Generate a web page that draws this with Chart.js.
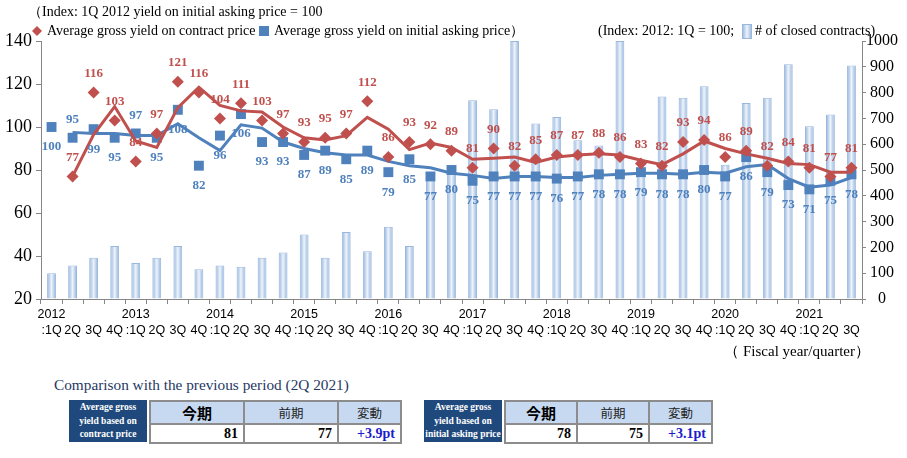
<!DOCTYPE html>
<html>
<head>
<meta charset="utf-8">
<script src="https://cdn.jsdelivr.net/npm/chart.js@4.4.1/dist/chart.umd.min.js"></script>
<style>
  body { margin: 0; background: #fff; width: 907px; height: 458px; position: relative; overflow: hidden; }
  #yieldChart { position: absolute; left: 0; top: 0; }
  .cmp-title { position: absolute; left: 54px; top: 376px; font: 15.3px "Liberation Serif", serif; color: #1f3864; white-space: nowrap; }
  .hdr { position: absolute; top: 400px; width: 78px; height: 42px; background: #1f497d; color: #fff; white-space: nowrap;
         font: bold 9.5px "Liberation Serif", serif; line-height: 13.5px; text-align: center; padding-top: 1px; box-sizing: border-box; }
  table.cmp { position: absolute; top: 400px; border-collapse: collapse; table-layout: fixed; }
  table.cmp td { border: 2px solid #8c8c8c; height: 17px; padding: 0 5px; }
  table.cmp tr.h td { background: #c6d9f1; text-align: center; font: 12.5px "Noto Sans CJK JP", sans-serif; color: #222; }
  table.cmp tr.h td.now { font: bold 15px "Noto Sans CJK JP", sans-serif; color: #000; }
  table.cmp tr.v td { text-align: right; font: bold 14px "Liberation Serif", serif; color: #000; }
  table.cmp tr.v td.chg { color: #1c1ccc; }
</style>
</head>
<body>
<canvas id="yieldChart" width="907" height="365"></canvas>

<div class="cmp-title">Comparison with the previous period (2Q 2021)</div>

<div class="hdr" style="left:69px">Average gross<br>yield based on<br>contract price</div>
<table class="cmp" style="left:149px; width:251px">
  <colgroup><col style="width:94px"><col style="width:94px"><col style="width:63px"></colgroup>
  <tr class="h"><td class="now">今期</td><td>前期</td><td>変動</td></tr>
  <tr class="v"><td>81</td><td>77</td><td class="chg">+3.9pt</td></tr>
</table>

<div class="hdr" style="left:424px">Average gross<br>yield based on<br>initial asking price</div>
<table class="cmp" style="left:504px; width:207px">
  <colgroup><col style="width:72px"><col style="width:72px"><col style="width:63px"></colgroup>
  <tr class="h"><td class="now">今期</td><td>前期</td><td>変動</td></tr>
  <tr class="v"><td>78</td><td>75</td><td class="chg">+3.1pt</td></tr>
</table>

<script>
// quarters 2012 1Q .. 2021 3Q
const years = ['2012', '2013', '2014', '2015', '2016', '2017', '2018', '2019', '2020', '2021'];
const quarterNames = [':1Q', '2Q', '3Q', '4Q'];

// average gross yield on contract price (index)
const contractYield = [null, 77, 116, 103, 84, 97, 121, 116, 104, 111,
  103, 97, 93, 95, 97, 112, 86, 93, 92, 89,
  81, 90, 82, 85, 87, 87, 88, 86, 83, 82,
  93, 94, 86, 89, 82, 84, 81, 77, 81];

// average gross yield on initial asking price (index)
const askingYield = [100, 95, 99, 95, 97, 95, 108, 82, 96, 106,
  93, 93, 87, 89, 85, 89, 79, 85, 77, 80,
  75, 77, 77, 77, 76, 77, 78, 78, 79, 78,
  78, 80, 77, 86, 79, 73, 71, 75, 78];

// trend lines as drawn in the picture
const contractTrend = [null, 77, 96.5, 109.5, 93.5, 90.5, 109, 118.5, 110, 107.5,
  107, 100, 95, 94, 96, 104.5, 99, 89.5, 92.5, 90.5,
  85, 85.5, 86, 83.5, 86, 87, 87.5, 87, 84.5, 82.5,
  87.5, 93.5, 90, 87.5, 85.5, 83, 82.5, 79, 79];

const askingTrend = [null, 97.5, 97, 97, 96, 96, 101.5, 95, 89, 101,
  99.5, 93, 90, 88, 87, 87, 84, 82, 81, 78.5,
  77.5, 76, 77, 77, 76.5, 76.5, 77.5, 78, 78.5, 78.5,
  78, 79, 78.5, 81.5, 82.5, 76, 72, 73, 76.5];

// number of closed contracts (right axis)
const closedContracts = [100, 130, 160, 205, 140, 160, 205, 115, 130, 125,
  160, 180, 250, 160, 260, 185, 280, 205, 460, 490,
  770, 735, 1000, 680, 705, 615, 595, 1000, 490, 785,
  780, 825, 520, 760, 780, 910, 670, 715, 905];

const leftTicks = [20, 40, 60, 80, 100, 120, 140];
const rightTicks = [0, 100, 200, 300, 400, 500, 600, 700, 800, 900, 1000];

// asking-price labels that sit above the marker
const askingLabelUp = [1, 4];

const labels = [];
years.forEach(y => quarterNames.forEach((q, i) => {
  if (labels.length < contractYield.length) labels.push(i === 0 ? [y, q] : ['', q]);
}));

const RED = '#c0504d';
const BLUE = '#4f81bd';
const AXIS = '#868686';
const SERIF = '"Liberation Serif", "Times New Roman", serif';

function barFill(c) {
  const xs = c.chart.scales.x;
  if (!xs || c.dataIndex == null) return '#c6d9f0';
  const cx = xs.getPixelForValue(c.dataIndex);
  const w = xs.width / labels.length * 0.42;
  if (!isFinite(cx) || !isFinite(w) || w <= 0) return '#c6d9f0';
  const g = c.chart.ctx.createLinearGradient(cx - w / 2, 0, cx + w / 2, 0);
  g.addColorStop(0, '#8fb1dc');
  g.addColorStop(0.5, '#eef4fb');
  g.addColorStop(1, '#8fb1dc');
  return g;
}

const decorations = {
  id: 'decorations',
  afterDatasetsDraw(chart) {
    const ctx = chart.ctx;
    ctx.save();
    ctx.font = 'bold 13px ' + SERIF;
    ctx.textAlign = 'center';
    ctx.textBaseline = 'middle';
    chart.getDatasetMeta(3).data.forEach((pt, i) => {
      if (askingYield[i] == null) return;
      const up = askingLabelUp.includes(i);
      ctx.fillStyle = BLUE;
      ctx.fillText(String(askingYield[i]), pt.x, pt.y + (up ? -18 : 20));
    });
    chart.getDatasetMeta(1).data.forEach((pt, i) => {
      if (contractYield[i] == null) return;
      ctx.fillStyle = RED;
      ctx.fillText(String(contractYield[i]), pt.x, pt.y - 19);
    });
    ctx.restore();
  },
  afterDraw(chart) {
    const ctx = chart.ctx;
    ctx.save();
    ctx.fillStyle = '#000';
    ctx.textBaseline = 'middle';
    ctx.textAlign = 'left';
    ctx.font = '14px ' + SERIF;
    ctx.fillText('（Index: 1Q 2012 yield on initial asking price = 100', 28, 12);

    // legend row
    ctx.fillStyle = RED;
    ctx.beginPath();
    ctx.moveTo(37, 26); ctx.lineTo(42, 31); ctx.lineTo(37, 36); ctx.lineTo(32, 31);
    ctx.closePath(); ctx.fill();
    ctx.fillStyle = '#000';
    ctx.fillText('Average gross yield on contract price', 47, 31);
    ctx.fillStyle = BLUE;
    ctx.fillRect(259, 26, 10, 10);
    ctx.fillStyle = '#000';
    ctx.fillText('Average gross yield on initial asking price）', 274, 31);

    ctx.fillText('(Index: 2012: 1Q = 100;', 598, 31);
    const g = ctx.createLinearGradient(742, 0, 752, 0);
    g.addColorStop(0, '#8fb1dc'); g.addColorStop(0.5, '#eef4fb'); g.addColorStop(1, '#8fb1dc');
    ctx.fillStyle = g;
    ctx.fillRect(742, 24, 10, 15);
    ctx.strokeStyle = '#9ab8de';
    ctx.strokeRect(742.5, 24.5, 9, 14);
    ctx.fillStyle = '#000';
    ctx.fillText('# of closed contracts)', 755, 31);

    ctx.font = '15px ' + SERIF;
    ctx.textAlign = 'right';
    ctx.fillText('（ Fiscal year/quarter）', 870, 352);
    ctx.restore();
  }
};

new Chart(document.getElementById('yieldChart').getContext('2d'), {
  type: 'bar',
  data: {
    labels: labels,
    datasets: [
      {
        type: 'line', label: 'contract trend', data: contractTrend, yAxisID: 'y',
        borderColor: RED, borderWidth: 3, pointRadius: 0, tension: 0, order: 3
      },
      {
        type: 'line', label: 'Average gross yield on contract price', data: contractYield, yAxisID: 'y',
        showLine: false, pointStyle: 'rectRot', pointRadius: 6,
        backgroundColor: RED, borderColor: RED, borderWidth: 0, order: 2
      },
      {
        type: 'line', label: 'asking trend', data: askingTrend, yAxisID: 'y',
        borderColor: BLUE, borderWidth: 3, pointRadius: 0, tension: 0, order: 5
      },
      {
        type: 'line', label: 'Average gross yield on initial asking price', data: askingYield, yAxisID: 'y',
        showLine: false, pointStyle: 'rect', pointRadius: 7,
        backgroundColor: BLUE, borderColor: BLUE, borderWidth: 0, order: 4
      },
      {
        type: 'bar', label: '# of closed contracts', data: closedContracts, yAxisID: 'y1',
        backgroundColor: barFill, borderColor: '#9ab8de', borderWidth: 1,
        barPercentage: 0.42, categoryPercentage: 1, order: 10
      }
    ]
  },
  options: {
    responsive: false,
    animation: false,
    layout: { padding: { top: 41, left: 0, right: 0, bottom: 0 } },
    plugins: { legend: { display: false }, tooltip: { enabled: false } },
    scales: {
      x: {
        afterFit: s => { s.height = 66; },
        grid: { drawOnChartArea: false, tickLength: 5, color: AXIS, offset: true },
        border: { color: AXIS },
        ticks: {
          autoSkip: false, maxRotation: 0, padding: 3, color: '#000',
          font: { family: '"Liberation Sans", Arial, sans-serif', size: 12.5, lineHeight: 1.28 }
        }
      },
      y: {
        position: 'left', min: leftTicks[0], max: leftTicks[leftTicks.length - 1],
        afterFit: s => { s.width = 41; },
        afterBuildTicks: s => { s.ticks = leftTicks.map(v => ({ value: v })); },
        grid: { drawOnChartArea: false, tickLength: 5, color: AXIS },
        border: { color: AXIS },
        ticks: { padding: 4, color: '#000', font: { family: SERIF, size: 18 }, callback: v => String(v) }
      },
      y1: {
        position: 'right', min: rightTicks[0], max: rightTicks[rightTicks.length - 1],
        afterFit: s => { s.width = 45; },
        afterBuildTicks: s => { s.ticks = rightTicks.map(v => ({ value: v })); },
        grid: { drawOnChartArea: false, tickLength: 4, color: AXIS },
        border: { color: AXIS },
        ticks: { padding: 0, crossAlign: 'center', color: '#000', font: { family: SERIF, size: 16 }, callback: v => String(v) }
      }
    }
  },
  plugins: [decorations]
});
</script>
</body>
</html>
